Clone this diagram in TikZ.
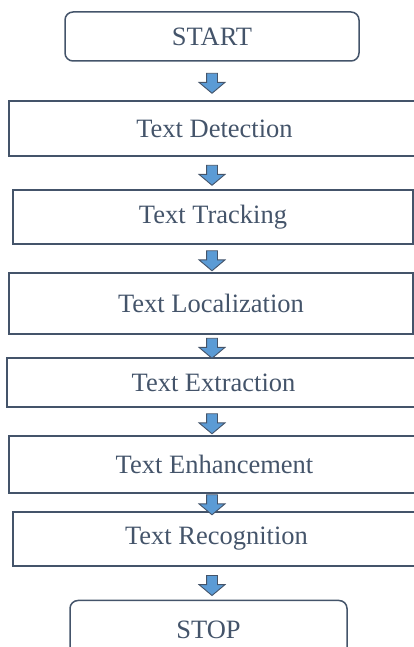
\documentclass[tikz,border=0pt]{standalone}
\usepackage{fontspec}
\setmainfont{Liberation Serif}
\usetikzlibrary{shapes.arrows,calc}
\definecolor{vien}{HTML}{44546A}
\definecolor{xanhmui}{HTML}{5B9BD5}
\tikzset{
  hop/.style={draw=vien,line width=1.5pt,text=vien,inner sep=0pt,
    font=\fontsize{26.5}{30}\selectfont},
  hopbo/.style={hop,rounded corners=8pt},
  muiten/.style={single arrow,shape border rotate=270,draw=vien,fill=xanhmui,
    line width=0.9pt,minimum height=20pt,minimum width=25pt,inner sep=5pt,
    single arrow head extend=7.5pt,single arrow tip angle=100}
}
\begin{document}
\begin{tikzpicture}[x=1pt,y=1pt]
\useasboundingbox (0,0) rectangle (414,647);
\node[hopbo,minimum width=294pt,minimum height=49pt] (start) at (212,610.5) {START}; % bắt đầu
\node[hop,minimum width=411pt,minimum height=55pt] (detect) at (214.5,518.5) {Text Detection};
\node[hop,minimum width=400pt,minimum height=54pt] (track) at (213,430) {Text Tracking};
\node[hop,minimum width=404pt,minimum height=61pt] (local) at (211,343.5) {Text Localization};
\node[hop,minimum width=413pt,minimum height=49pt] (extract) at (213.5,264.5) {Text Extraction};
\node[hop,minimum width=411pt,minimum height=57pt] (enhance) at (214.5,182.5) {Text Enhancement};
\node[hop,minimum width=407pt,minimum height=54pt] (recog) at (216.5,108) {Text Recognition};
\node[hopbo,minimum width=277pt,minimum height=59pt] (stop) at (208.5,17) {STOP}; % kết thúc
\foreach \a/\b [count=\i] in {start/detect,detect/track,track/local,local/extract,extract/enhance,enhance/recog,recog/stop}
{
  \coordinate (g\i) at ($(\a.south)!.5!(\b.north)$); % giữa hai khung
  \node[muiten] (m\i) at (start.center |- g\i) {};
}
\end{tikzpicture}
\end{document}
